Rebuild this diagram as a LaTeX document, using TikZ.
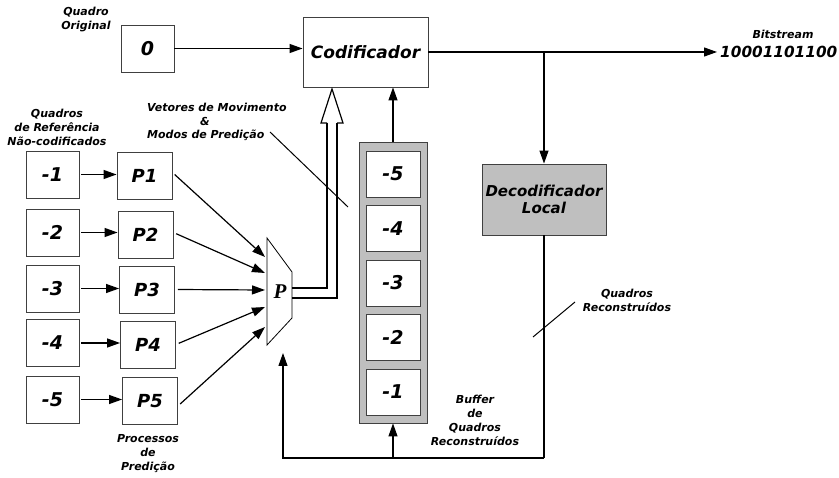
\documentclass[tikz,border=0pt]{standalone}
\usepackage{fontspec}
\setmainfont{DejaVu Sans}
\newfontfamily\serifP{Liberation Serif}
\usetikzlibrary{arrows.meta}
\begin{document}
\begin{tikzpicture}[x=1pt,y=-1pt,
  bx/.style={draw=black!75, line width=0.9pt, fill=white, minimum width=53pt, minimum height=47pt, inner sep=0pt,
    font=\bfseries\itshape\fontsize{19}{19}\selectfont},
  pbx/.style={bx, minimum width=55pt, font=\bfseries\itshape\fontsize{18}{18}\selectfont},
  arr/.style={-{Triangle[length=13pt,width=9pt]}, line width=1.2pt},
  lbl/.style={font=\bfseries\itshape\fontsize{11}{14}\selectfont, align=center, inner sep=0pt},
  ln/.style={line width=1.2pt}]
\useasboundingbox (0,0) rectangle (839,478);
% top
\node[bx] (q0) at (147.5,48.5) {0};
\node[bx, minimum width=125pt, minimum height=70pt, font=\bfseries\itshape\fontsize{17}{17}\selectfont] (cod) at (365.5,52) {Codificador};
\node[lbl] (lq0) at (86,19.5) {Quadro\\Original};
\draw[arr] (q0.east) -- (cod.west |- q0.east);
\coordinate (bs) at (717,52);
\draw[arr] (cod.east) -- (bs);
\node[anchor=west, inner sep=0pt, font=\bfseries\itshape\fontsize{15.3}{15.3}\selectfont] (bits) at (720,52) {10001101100};
\node[lbl] (lbs) at (783,34) {Bitstream};
% decoder
\node[bx, minimum width=124pt, minimum height=71pt, fill=black!25, align=center, font=\bfseries\itshape\fontsize{15}{17.5}\selectfont] (dec) at (544,199.5) {Decodificador\\Local};
\coordinate (br) at (cod.east -| dec.north);
\draw[arr] (br) -- (dec.north);
% buffer
\node[draw=black!75, line width=0.9pt, fill=black!25, minimum width=68pt, minimum height=281pt, inner sep=0pt] (buf) at (393,282.5) {};
\foreach \n/\yy in {5/174, 4/228.5, 3/283, 2/337.5, 1/392}{
  \node[bx, minimum width=54pt, minimum height=46pt] (b\n) at (393,\yy) {-\n};
}
\draw[arr] (buf.north) -- (buf.north |- cod.south);
% feedback
\coordinate (fbc) at (dec.south |- 0,458);
\coordinate (mbin) at (283,353);
\draw[ln] (dec.south) -- (fbc);
\draw[arr] (fbc) -| (mbin);
\draw[arr] (buf.south |- fbc) -- (buf.south);
\draw[line width=1pt] (533,337) -- (575,302);
\node[lbl] (lqr) at (627,300.5) {Quadros\\Reconstruídos};
\node[lbl] (lbuf) at (475,420) {Buffer\\de\\Quadros\\Reconstruídos};
% mux
\draw[line width=0.8pt, fill=white] (267,238) -- (292,272) -- (292,318) -- (267,345) -- cycle;
\node[font=\serifP\bfseries\itshape\fontsize{21}{21}\selectfont, inner sep=0pt] (mux) at (280,292) {P};
% hollow double arrow
\draw[ln] (292,288) -- (327,288) -- (327,123);
\draw[ln] (292,298) -- (337,298) -- (337,123);
\draw[ln, line join=miter] (327,123) -- (321,123) -- (332,89) -- (343,123) -- (337,123);
\node[lbl, anchor=west] (lv1) at (147,107) {Vetores de Movimento};
\node[lbl] (lv2) at (205,121) {\&};
\node[lbl, anchor=west] (lv3) at (147,135) {Modos de Predição};
\draw[line width=1pt] (270,132) -- (348,207);
% left
\node[lbl] (lref) at (57,127) {Quadros\\de Referência\\Não-codificados};
\node[bx] (r1) at (52.5,174.5) {-1};
\node[bx] (r2) at (52.5,232.5) {-2};
\node[bx] (r3) at (52.5,288.5) {-3};
\node[bx] (r4) at (52.5,343) {-4};
\node[bx] (r5) at (52.5,399.5) {-5};
\node[pbx] (p1) at (144.5,175.5) {P1};
\node[pbx] (p2) at (145.5,234.5) {P2};
\node[pbx] (p3) at (147,289.5) {P3};
\node[pbx] (p4) at (148,344.5) {P4};
\node[pbx] (p5) at (150,401) {P5};
\foreach \i in {1,...,5}{
  \draw[arr, shorten <=2pt] (r\i.east) -- (p\i.west |- r\i.east);
}
\coordinate (m1) at (265,257);
\coordinate (m2) at (265,273);
\coordinate (m3) at (265,290);
\coordinate (m4) at (265,307);
\coordinate (m5) at (265,327);
\draw[arr, shorten <=3pt] (p1.east) ++(0,-3) -- (m1);
\draw[arr, shorten <=3pt] (p2.east) ++(0,-2) -- (m2);
\draw[arr, shorten <=3pt] (p3.east) -- (m3);
\draw[arr, shorten <=3pt] (p4.east) -- (m4);
\draw[arr, shorten <=3pt] (p5.east) ++(0,5) -- (m5);
\node[lbl] (lproc) at (148,454) {Processos\\de\\Predição};
\end{tikzpicture}
\end{document}
